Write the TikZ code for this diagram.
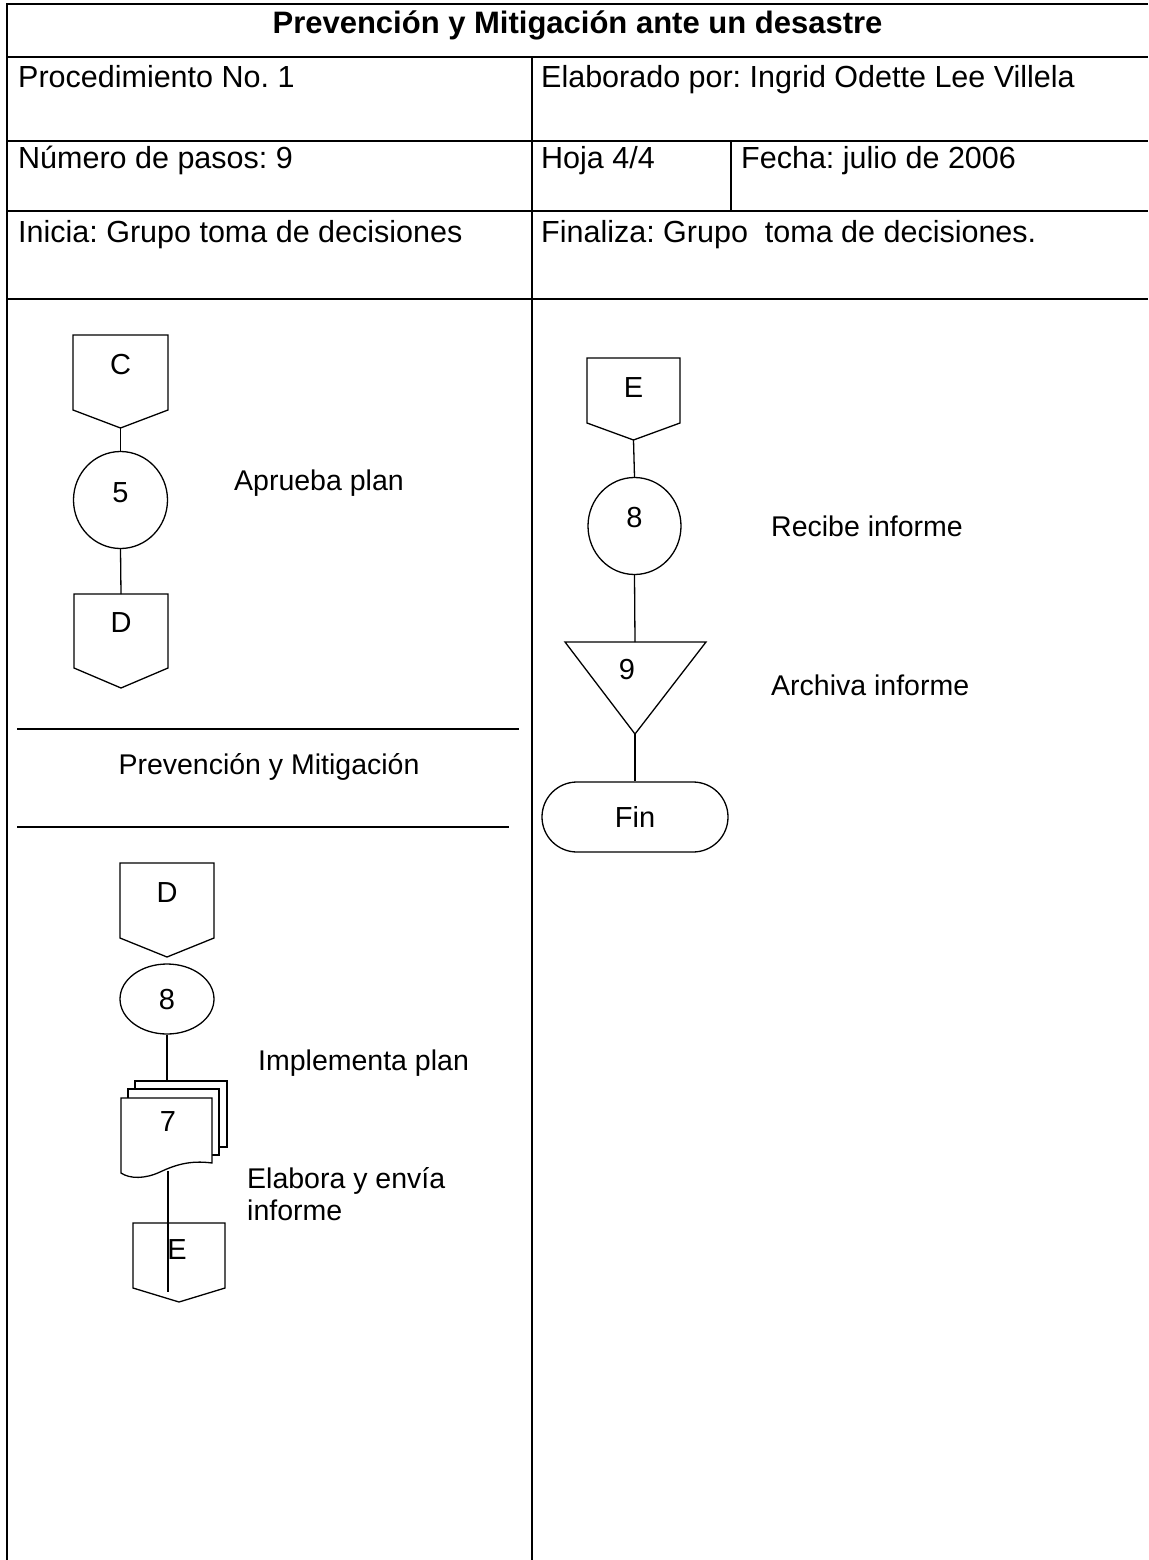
\documentclass[tikz,border=0pt]{standalone}
\usepackage{fontspec}
\setmainfont{Liberation Sans}
\usetikzlibrary{shapes.geometric}
\frenchspacing
\newcommand\offpg[8]{% #1 name, #2 left, #3 right, #4 top, #5 side bottom, #6 point y, #7 label y, #8 text
  \draw[shp,fill=white] (#2,#4) -- (#3,#4) -- (#3,#5) -- ({(#2+#3)/2},#6) -- (#2,#5) -- cycle;
  \coordinate (#1-top) at ({(#2+#3)/2},#4);
  \coordinate (#1-pt) at ({(#2+#3)/2},#6);
  \node[sym] (#1) at ({(#2+#3)/2},#7) {#8};}
\begin{document}
\begin{tikzpicture}[x=1pt,y=-1pt,
  tbl/.style={line width=2pt},
  shp/.style={line width=1.3pt},
  ttxt/.style={inner sep=0pt, anchor=base west, font=\fontsize{30.5}{36}\selectfont},
  ftxt/.style={inner sep=0pt, anchor=base west, font=\fontsize{28.5}{32}\selectfont},
  sym/.style={inner sep=0pt, font=\fontsize{29}{34}\selectfont},
  conn/.style={draw, ellipse, line width=1.3pt, inner sep=0pt},
  sheet/.style={draw, rectangle, line width=1.3pt, fill=white, inner sep=0pt},
]
\useasboundingbox (0,0) rectangle (1148,1560);
\fill[white] (0,0) rectangle (1148,1560);

% ---------- table ----------
\draw[tbl] (1148,4) -- (7,4) -- (7,1560);
\draw[tbl] (7,57) -- (1148,57);
\draw[tbl] (7,141) -- (1148,141);
\draw[tbl] (7,211) -- (1148,211);
\draw[tbl] (7,299) -- (1148,299);
\draw[tbl] (532,57) -- (532,1560);
\draw[tbl] (731,141) -- (731,211);

\node[inner sep=0pt, anchor=base, font=\bfseries\fontsize{31}{36}\selectfont] (title) at (577.5,34) {Prevención y Mitigación ante un desastre};
\node[ttxt] (proc) at (18,88) {Procedimiento No. 1};
\node[ttxt] (elab) at (541,88) {Elaborado por: Ingrid Odette Lee Villela};
\node[ttxt] (num) at (18,168) {Número de pasos: 9};
\node[ttxt] (hoja) at (541,168) {Hoja 4/4};
\node[ttxt] (fecha) at (741,168) {Fecha: julio de 2006};
\node[ttxt] (ini) at (18,242) {Inicia: Grupo toma de decisiones};
\node[ttxt] (fin-t) at (541,242) {Finaliza: Grupo\ \ toma de decisiones.};

% ---------- left lane, upper ----------
\offpg{C1}{73}{168}{335}{410}{428}{365}{C}
\node[conn, minimum width=94pt, minimum height=97pt] (c5) at (120.5,500) {};
\node[sym] (c5t) at (120.5,493) {5};
\offpg{D1}{74}{168}{594}{668}{688}{623}{D}
\draw[shp] (C1-pt) -- (c5.north);
\draw[shp] (c5.south) -- (D1-top);
\node[ftxt] (apr) at (234,490) {Aprueba plan};

% separator
\coordinate (r1a) at (17,729); \coordinate (r1b) at (519,729);
\coordinate (r2a) at (17,827); \coordinate (r2b) at (509,827);
\draw[shp] (r1a) -- (r1b);
\draw[shp] (r2a) -- (r2b);
\node[inner sep=0pt, anchor=base, font=\fontsize{28.5}{32}\selectfont] (sep) at (269,774) {Prevención y Mitigación};

% ---------- left lane, lower ----------
\offpg{D2}{120}{214}{863}{938}{957}{893}{D}
\node[conn, minimum width=94pt, minimum height=70pt] (e8) at (167,999) {};
\node[sym] (e8t) at (167,1000) {8};
\node[ftxt] (impl) at (258,1070) {Implementa plan};

\node[sheet, minimum width=92pt, minimum height=66pt] (sh3) at (181,1114) {};
\node[sheet, minimum width=91pt, minimum height=66pt] (sh2) at (173.5,1122) {};
\draw[shp, fill=white] (121,1098) -- (212,1098) -- (212,1163)
  .. controls (190,1160) and (175,1165) .. (160,1172)
  .. controls (145,1179) and (130,1179) .. (121,1173) -- cycle;
\node[sym] (d7) at (168,1122) {7};
\coordinate (docbot) at (168,1171);
\draw[shp] (e8.south) -- (e8.south |- sh3.north);

\offpg{E1}{133}{225}{1223}{1288}{1302}{1250}{\hspace*{-4pt}E}
\coordinate (Eend) at (168,1292);
\draw[shp] (docbot) -- (Eend);
\node[ftxt] (elabora1) at (247,1188) {Elabora y envía};
\node[ftxt] (elabora2) at (247,1220) {informe};

% ---------- right lane ----------
\offpg{E2}{587}{680}{358}{423}{440}{388}{E}
\node[conn, minimum width=93pt, minimum height=97pt] (c8) at (634.5,526) {};
\node[sym] (c8t) at (634.5,518) {8};
\node[ftxt] (rec) at (771,536) {Recibe informe};
\draw[shp] (E2-pt) -- (c8.north);

\coordinate (tl) at (565,642); \coordinate (tr) at (706,642);
\coordinate (ttop) at (635,642); \coordinate (tapex) at (635,734);
\draw[shp] (tl) -- (tr) -- (tapex) -- cycle;
\node[sym] (t9) at (627,670) {9};
\node[ftxt] (arch) at (771,695) {Archiva informe};
\draw[shp] (c8.south) -- (ttop);

\node[draw, shp, rounded corners=35pt, minimum width=186pt, minimum height=70pt, inner sep=0pt, font=\fontsize{29}{34}\selectfont] (fin) at (635,817) {Fin};
\draw[shp] (tapex) -- (fin.north);
\end{tikzpicture}
\end{document}
